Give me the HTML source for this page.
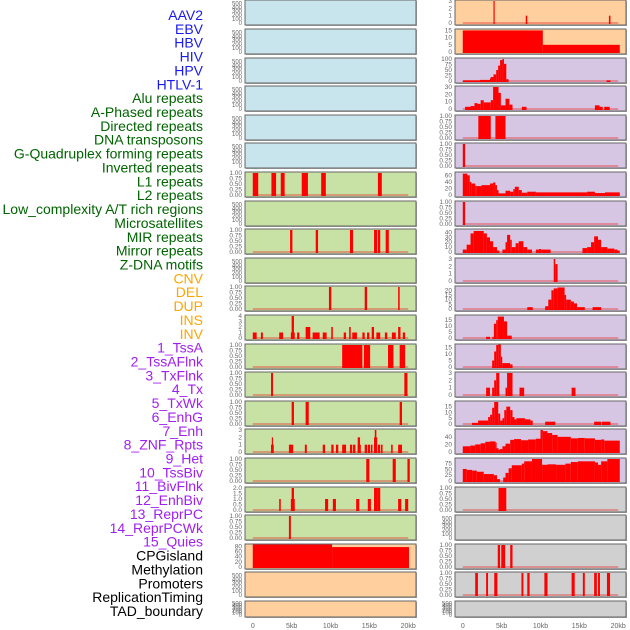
<!DOCTYPE html>
<html><head><meta charset="utf-8"><style>
body{margin:0;background:#fff;width:630px;height:630px;overflow:hidden}
svg{display:block;font-family:"Liberation Sans",sans-serif}
</style></head><body>
<svg id="chart" width="630" height="630" viewBox="0 0 630 630" xmlns="http://www.w3.org/2000/svg"></svg>
<script>
const trackLabels = ["AAV2","EBV","HBV","HIV","HPV","HTLV-1","Alu repeats","A-Phased repeats","Directed repeats","DNA transposons","G-Quadruplex forming repeats","Inverted repeats","L1 repeats","L2 repeats","Low_complexity A/T rich regions","Microsatellites","MIR repeats","Mirror repeats","Z-DNA motifs","CNV","DEL","DUP","INS","INV","1_TssA","2_TssAFlnk","3_TxFlnk","4_Tx","5_TxWk","6_EnhG","7_Enh","8_ZNF_Rpts","9_Het","10_TssBiv","11_BivFlnk","12_EnhBiv","13_ReprPC","14_ReprPCWk","15_Quies","CPGisland","Methylation","Promoters","ReplicationTiming","TAD_boundary"];
const labelColors = ["#1a1aee","#006400","#ffa500","#a020f0","#000000"];
const labelGroups = [6,13,5,15,5];
const xTicks = [0,5,10,15,20];
const xTickLabels = ["0","5kb","10kb","15kb","20kb"];

// segments: [startKb, endKb, value]
const L6 = [[0,0.7,1],[2.4,3.0,1],[3.6,4.1,1],[6.3,7.1,1],[8.8,9.4,1],[16.1,16.6,1]];
const L8 = [[4.8,5.1,1],[8.1,8.4,1],[12.5,12.9,1],[15.6,16.0,1],[16.1,16.4,1],[17.1,17.5,1]];
const L10 = [[9.8,10.1,1],[14.4,14.7,1],[18.7,18.9,1]];
const L11 = [[0,0.5,1],[1.05,1.3,1],[3.4,3.9,1],[4.9,5.4,1],[5.0,5.3,4],[5.7,6.0,1],[6.8,7.4,2],[7.7,8.6,1],[9.0,9.5,1],[10.1,10.3,2],[11.7,12.0,1],[12.4,12.6,2],[12.8,13.4,1],[14.1,14.4,1],[14.7,15.0,1],[15.3,15.6,2],[15.9,16.4,1],[17.0,17.3,1],[17.9,18.4,1],[18.7,19.0,2],[19.3,19.6,1]];
const L12 = [[11.5,14.1,1],[14.3,15.1,1],[17.4,18.1,1],[18.9,19.6,1]];
const L13 = [[2.35,2.6,1],[19.5,19.9,1]];
const L14 = [[5.0,5.3,1],[6.8,7.2,1],[18.9,19.2,1]];
const L15 = [[2.35,2.7,1],[2.45,2.6,2],[4.65,5.2,1],[6.7,6.95,1],[9.0,9.3,1],[10.1,10.4,1],[10.7,11.0,1],[11.5,12.0,1],[12.5,12.8,1],[12.9,13.2,1],[13.5,13.9,1],[13.5,13.8,2],[14.4,14.7,1],[14.8,15.1,1],[15.2,15.4,1],[15.6,16.0,2],[15.7,15.9,3],[16.1,16.4,1],[16.5,16.7,1],[17.8,18.0,1],[18.7,19.2,1]];
const L16 = [[14.6,15.0,1],[18.0,18.4,1],[19.9,20.2,1]];
const L17 = [[3.4,3.6,1],[4.9,5.4,1],[5.0,5.3,2],[9.3,9.7,1],[10.3,10.7,1],[13.3,13.7,1],[14.8,15.2,1],[15.6,16.0,2],[16.0,16.4,2],[18.7,19.1,1],[19.6,20.0,1]];
const L18 = [[4.65,4.9,1]];
const L19 = [[0,10.2,90],[10.2,20.1,77]];

const R0 = [[3.95,4.1,3],[8.1,8.3,1],[18.8,19.0,1]];
const R1 = [[0,10.3,15],[10.3,20.2,5]];
const R2 = [[0,2.2,3],[2.2,3.5,5],[3.5,3.6,12],[3.6,3.95,18],[3.95,4.3,30],[4.3,4.55,50],[4.55,4.8,70],[4.8,5.1,95],[5.1,5.3,100],[5.3,5.6,78],[5.6,5.9,8],[18.5,19.0,3]];
const R3 = [[0.3,1.0,3],[1.0,1.5,4],[1.5,1.9,8],[1.9,2.3,7],[2.3,2.7,12],[2.7,3.6,9],[3.6,3.9,12],[3.9,4.6,30],[4.6,4.9,22],[4.9,5.5,5],[5.5,6.0,14],[6.0,6.4,6],[7.6,8.2,3],[17.0,17.6,5],[17.6,18.0,3],[18.2,18.9,3]];
const R4 = [[2.0,3.6,1],[4.2,5.5,1]];
const R5 = [[0,0.3,1]];
const R6 = [[0,0.6,65],[0.6,0.9,60],[0.9,1.1,40],[1.1,1.6,35],[1.6,1.8,28],[1.8,2.4,27],[2.4,3.5,30],[3.5,3.9,35],[3.9,4.2,38],[4.2,4.4,30],[4.4,4.6,15],[4.6,5.5,5],[5.5,6.1,13],[6.1,6.5,10],[6.5,6.7,18],[6.7,7.2,25],[7.2,7.6,15],[7.6,8.3,7],[8.3,9.4,10],[9.4,16.0,8],[16.0,17.0,10],[17.0,18.3,6],[18.3,20.2,8]];
const R7 = [[0,0.3,1]];
const R8 = [[0,0.5,5],[0.5,1.0,15],[1.0,1.4,38],[1.4,2.7,43],[2.7,3.1,38],[3.1,3.5,30],[3.5,3.9,22],[3.9,4.4,10],[4.4,4.7,3],[5.1,5.5,5],[5.5,5.7,20],[5.7,6.1,35],[6.1,6.3,25],[6.3,6.8,10],[6.8,7.2,18],[7.2,7.8,22],[7.8,8.3,10],[8.3,8.9,5],[9.4,9.8,5],[9.8,10.1,6],[10.1,11.3,5],[15.4,16.0,8],[16.0,16.5,10],[16.5,16.9,20],[16.9,17.4,32],[17.4,17.8,25],[17.8,18.6,10],[18.6,19.5,7],[19.5,19.9,5],[19.9,20.2,3]];
const R9 = [[11.7,11.9,3],[11.9,12.2,2.3]];
const R10 = [[8.3,9.0,2],[10.6,11.0,3],[11.0,11.4,10],[11.4,11.7,20],[11.7,12.2,22],[12.2,13.1,23],[13.1,13.3,15],[13.3,13.9,10],[13.9,14.3,8],[14.3,14.7,6],[14.7,15.7,2],[16.7,17.8,2]];
const R11 = [[3.0,3.5,1],[3.8,4.0,1],[4.0,4.3,12],[4.3,4.5,15],[4.5,5.3,18],[5.3,5.7,14],[5.7,6.3,2]];
const R12 = [[3.78,4.04,5],[4.04,4.3,12],[4.3,4.56,17],[4.56,4.9,18],[4.9,5.08,8],[5.08,6.1,3],[6.1,6.4,2]];
const R13 = [[3.0,3.5,1],[3.78,4.04,1],[4.04,4.3,2],[4.3,4.7,3],[5.5,5.7,1],[5.7,6.4,3],[7.3,7.9,1],[14.0,14.5,1]];
const R14 = [[1.19,1.97,1],[1.97,3.26,3],[3.26,3.52,6],[3.52,3.78,8],[3.78,4.04,14],[4.04,4.56,19],[4.56,4.82,9],[4.82,5.1,3],[5.1,5.34,5],[5.34,5.6,12],[5.6,6.1,15],[6.1,6.4,12],[6.4,6.65,6],[6.65,6.9,4],[6.9,8.0,5],[8.0,8.7,4],[8.7,9.0,3],[10.6,11.9,2],[16.9,17.8,2],[17.9,19.0,2]];
const R15 = [[0,0.96,15],[0.96,1.6,17],[1.6,2.3,20],[2.3,2.9,23],[2.9,3.5,27],[3.5,4.2,28],[4.2,4.3,25],[4.3,4.6,10],[4.6,4.8,6],[4.8,5.1,8],[5.1,5.5,15],[5.5,6.1,22],[6.1,6.6,32],[6.6,7.5,34],[7.5,8.4,31],[8.4,9.4,33],[9.4,10.0,35],[10.0,10.3,58],[10.3,10.9,55],[10.9,11.5,50],[11.5,12.2,45],[12.2,13.9,40],[13.9,14.8,36],[14.8,15.7,37],[15.7,17.0,36],[17.0,17.8,32],[17.8,18.2,33],[18.2,20.2,30]];
const R16 = [[0,0.5,52],[0.5,1.2,48],[1.2,1.8,45],[1.8,2.7,40],[2.7,4.0,30],[4.0,4.4,25],[4.4,4.8,8],[5.2,5.5,15],[5.5,5.9,35],[5.9,6.3,55],[6.3,7.6,68],[7.6,7.9,75],[7.9,8.9,85],[8.9,10.2,95],[10.2,10.9,70],[10.9,12.0,72],[12.0,13.2,70],[13.2,13.9,75],[13.9,14.8,82],[14.8,17.0,85],[17.0,17.4,80],[17.4,17.8,70],[17.8,18.6,85],[18.6,20.2,95]];
const R17 = [[4.6,5.6,1]];
const R19 = [[4.5,4.8,1],[4.95,5.45,1],[6.1,6.4,1]];
const R20 = [[1.6,1.95,1],[3.0,3.25,1],[4.05,4.45,1],[7.55,7.8,1],[8.3,8.6,1],[10.5,10.9,1],[14.0,14.4,1],[15.45,15.7,1],[16.9,17.25,1],[17.4,17.65,1],[18.55,18.95,1]];

const T01=[0,0.25,0.5,0.75,1], TE=[0,100,200,300,400,500];
const BLUE="#c8e4ec", GREEN="#c8e1a5", PEACH="#ffcf9e", LAV="#d7c6e3", GREY="#d0d0d0";
function P(bg,segs,ymax,ticks,dec){return {bg,segs,ymax,ticks,dec};}
const E = (bg)=>P(bg,null,560,TE,0);
const leftPanels=[E(BLUE),E(BLUE),E(BLUE),E(BLUE),E(BLUE),E(BLUE),
 P(GREEN,L6,1,T01,2),E(GREEN),P(GREEN,L8,1,T01,2),E(GREEN),P(GREEN,L10,1,T01,2),
 P(GREEN,L11,4,[0,1,2,3,4],0),P(GREEN,L12,1,T01,2),P(GREEN,L13,1,T01,2),P(GREEN,L14,1,T01,2),
 P(GREEN,L15,3,[0,1,2,3],0),P(GREEN,L16,1,T01,2),P(GREEN,L17,2,[0,0.5,1,1.5,2],1),P(GREEN,L18,1,T01,2),
 P(PEACH,L19,85,[0,20,40,60,80],0),E(PEACH),E(PEACH)];
const rightPanels=[P(PEACH,R0,3,[0,1,2,3],0),P(PEACH,R1,15.3,[0,5,10,15],0),
 P(LAV,R2,100,[0,25,50,75,100],0),P(LAV,R3,30,[0,10,20,30],0),P(LAV,R4,1,T01,2),P(LAV,R5,1,T01,2),
 P(LAV,R6,67,[0,20,40,60],0),P(LAV,R7,1,T01,2),P(LAV,R8,45,[0,10,20,30,40],0),P(LAV,R9,3,[0,1,2,3],0),
 P(LAV,R10,23.5,[0,5,10,15,20],0),P(LAV,R11,18.5,[0,5,10,15],0),P(LAV,R12,17,[0,5,10,15],0),
 P(LAV,R13,3,[0,1,2,3],0),P(LAV,R14,19,[0,5,10,15],0),P(LAV,R15,58,[0,20,40],0),P(LAV,R16,95,[0,25,50,75],0),
 P(GREY,R17,1,T01,2),E(GREY),P(GREY,R19,1,T01,2),P(GREY,R20,1,T01,2),E(GREY)];

const NS="http://www.w3.org/2000/svg";
const svg=document.getElementById('chart');
function mk(tag,attrs,parent){const e=document.createElementNS(NS,tag);for(const k in attrs)e.setAttribute(k,attrs[k]);(parent||svg).appendChild(e);return e;}

// labels
let gi=0,cnt=0;
trackLabels.forEach((t,i)=>{
  while(cnt>=labelGroups[gi]){gi++;cnt=0;} cnt++;
  const e=mk('text',{x:203,y:20+i*13.86,'text-anchor':'end','font-size':14,fill:labelColors[gi]});
  e.textContent=t;
  
  
});

function drawCol(panels,left,width,side){
  const kbScale=width/22, x0=left+kbScale;
  const xs=kb=>x0+kb*kbScale;
  panels.forEach((p,i)=>{
    const top=Math.round(0.3+28.6*i), h=(i===21)?16:25, bot=top+h;
    const g=mk('g',{});
    
    
    mk('rect',{x:left+1,y:top+1,width:width,height:h,fill:'#aaa'},g);
    const bg=mk('rect',{x:left,y:top,width:width,height:h,fill:p.bg,stroke:'#666','stroke-width':1},g);
    
    
    const ys=v=>bot-2-(v/p.ymax)*(h-3);
    p.ticks.forEach(t=>{
      const tx=mk('text',{x:left-3,y:ys(t)+2,'text-anchor':'end','font-size':p.segs?6.5:6,fill:'#666'},g);
      tx.textContent=t.toFixed(p.dec);
      
      
    });
    if(p.segs){
      mk('line',{x1:xs(0),x2:xs(20),y1:ys(0),y2:ys(0),stroke:'rgba(230,40,40,0.5)','stroke-width':1.5},g);
      p.segs.forEach(s=>{
        const y=Math.max(ys(s[2]),top+0.5);
        const r=mk('rect',{x:xs(s[0]),y:y,width:Math.max(xs(s[1])-xs(s[0]),1.2),height:ys(0)-y+1,fill:'#ff0000'},g);
        
        
      });
    }
  });
  xTicks.forEach((t,j)=>{
    const tx=mk('text',{x:xs(t),y:628,'text-anchor':'middle','font-size':7,fill:'#666'});
    tx.textContent=xTickLabels[j];
    
    
  });
}
drawCol(leftPanels,245,171,'left');
drawCol(rightPanels,455,171,'right');
</script>
</body></html>
